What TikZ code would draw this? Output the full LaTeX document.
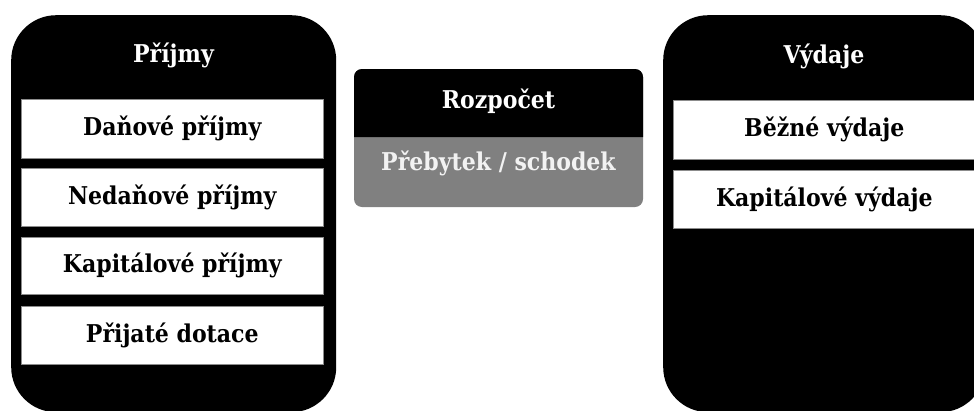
\documentclass[tikz,border=0pt]{standalone}
\usepackage{fontspec}
\setmainfont{DejaVu Serif Condensed}
\begin{document}
\begin{tikzpicture}[x=1pt,y=-1pt,
  panel/.style={fill=black, rounded corners=45pt, anchor=north west, inner sep=0pt},
  item/.style={fill=white, draw=black!45, line width=0.6pt, anchor=north west, inner sep=0pt},
  label/.style={text=black, inner sep=0pt, font=\bfseries\fontsize{24.5}{28}\selectfont},
  head/.style={text=white, inner sep=0pt, font=\bfseries\fontsize{24.5}{28}\selectfont}]
\useasboundingbox (0,0) rectangle (974,410);
\clip (0,0) rectangle (974,410);

% income panel
\node[panel, minimum width=325pt, minimum height=397pt] (inc) at (11,15) {};
\node[head] (incT) at (173.5,55) {Příjmy};
\node[item, minimum width=302pt, minimum height=59pt] (i1) at (21,99) {};
\node[item, minimum width=302pt, minimum height=58pt] (i2) at (21,168) {};
\node[item, minimum width=302pt, minimum height=57pt] (i3) at (21,237) {};
\node[item, minimum width=302pt, minimum height=58pt] (i4) at (21,306) {};
\node[label] (i1t) at (i1.center) {Daňové příjmy};
\node[label] (i2t) at (i2.center) {Nedaňové příjmy};
\node[label] (i3t) at (i3.center) {Kapitálové příjmy};
\node[label] (i4t) at (i4.center) {Přijaté dotace};

% budget box: black header over a grey result band
\fill[black!50, rounded corners=8pt] (354,69) rectangle (643,207);
\fill[black] (354,137) [rounded corners=8pt] -- (354,69) -- (643,69) [sharp corners] -- (643,137) -- cycle;
\node[head] (budT) at (498.5,101) {Rozpočet};
\node[head, text=white!95!black] (budS) at (498.5,163) {Přebytek / schodek};

% expenditure panel
\node[panel, minimum width=322pt, minimum height=397pt] (exp) at (663,15) {};
\node[head] (expT) at (824,56) {Výdaje};
\node[item, minimum width=302pt, minimum height=59pt] (e1) at (673,100) {};
\node[item, minimum width=302pt, minimum height=58pt] (e2) at (673,170) {};
\node[label] (e1t) at (e1.center) {Běžné výdaje};
\node[label] (e2t) at (e2.center) {Kapitálové výdaje};
\end{tikzpicture}
\end{document}
